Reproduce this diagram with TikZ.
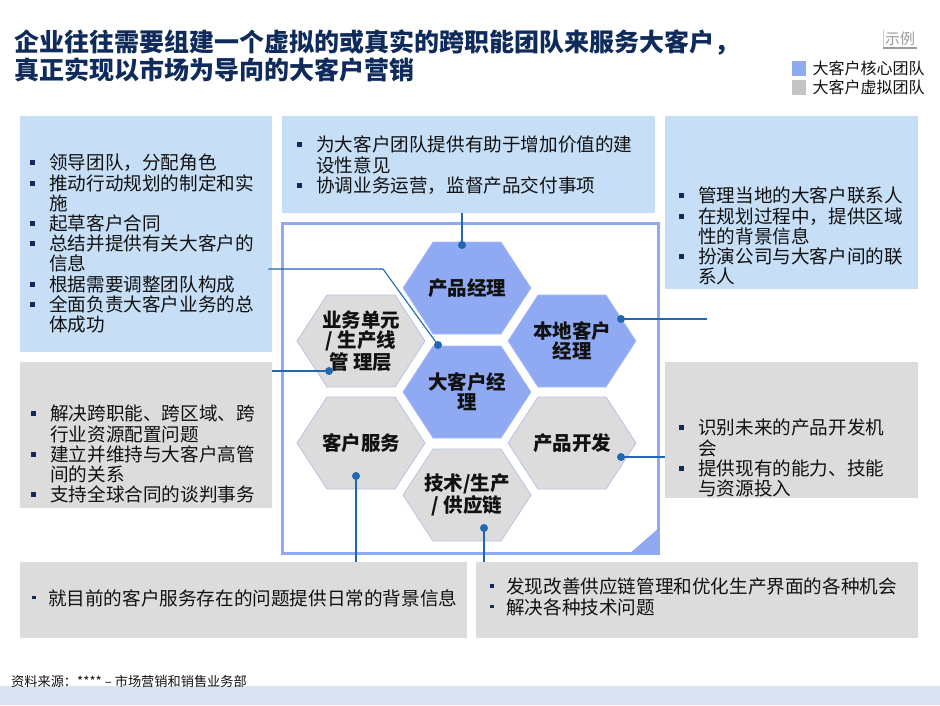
\documentclass[tikz,border=0pt]{standalone}
\usepackage{fontspec}
\setmainfont{Noto Sans CJK SC}
\usepackage{tikz}
\usetikzlibrary{positioning,calc}
\definecolor{navy}{HTML}{0F2B5B}
\definecolor{ink}{HTML}{111111}
\definecolor{boxblue}{HTML}{C6DEF6}
\definecolor{boxgray}{HTML}{DCDCDC}
\definecolor{hexblue}{HTML}{8FAAF2}
\definecolor{hexline}{HTML}{B7C3DF}
\definecolor{framecol}{HTML}{8FAAF0}
\definecolor{linkblue}{HTML}{2166B3}
\definecolor{bandcol}{HTML}{D9E3F1}
\definecolor{tabgray}{HTML}{9A9A9A}
\definecolor{keygray}{HTML}{C4C4C4}

% bullets and hanging indent
\newcommand{\bul}{\makebox[19pt][l]{\textcolor{navy}{\rule[4.5pt]{5pt}{5pt}}}}
\newcommand{\ind}{\hspace*{19pt}}
\newcommand{\sbul}{\makebox[16pt][l]{\textcolor{navy}{\rule[6pt]{3.5pt}{3.5pt}}}}
% flat-topped hexagon: style, name, centre, label
\newcommand{\hexcell}[4]{%
  \path[#1] (#3) ++(-64,0) -- ++(30,-46) -- ++(68,0) -- ++(30,46) -- ++(-30,46) -- ++(-68,0) -- cycle;
  \node[hexlabel] (#2) at (#3) {#4};}

\begin{document}
\begin{tikzpicture}[
  x=1pt,y=-1pt,
  every node/.style={inner sep=0pt},
  bluebox/.style={fill=boxblue,anchor=north west},
  graybox/.style={fill=boxgray,anchor=north west},
  bodytext/.style={font=\fontsize{18.6}{20.2}\selectfont,text=ink,align=left,anchor=north west},
  hexcore/.style={fill=hexblue,draw=hexblue!80!white,line width=0.6pt},
  hexvirt/.style={fill=boxgray,draw=hexline,line width=0.8pt},
  hexlabel/.style={font=\bfseries\fontsize{19.5}{20}\selectfont,text=ink,align=center},
  link/.style={draw=linkblue,line width=1.1pt},
  dot/.style={fill=linkblue},
  legend/.style={font=\fontsize{16}{16}\selectfont,text=ink}
]
\useasboundingbox (0,0) rectangle (940,705);

% title and legend
\node[font=\bfseries\fontsize{25}{28}\selectfont,text=navy,align=left,anchor=north west] (title) at (14,30)
  {企业往往需要组建一个虚拟的或真实的跨职能团队来服务大客户，\\真正实现以市场为导向的大客户营销};
\node[font=\fontsize{15}{15}\selectfont,text=tabgray,inner sep=2pt,anchor=west] (tab) at (883,39) {示例};
\draw[tabgray!50,line width=0.8pt] (tab.north west) -- (tab.south west);
\draw[tabgray,line width=2pt] (tab.south west) -- (tab.south east);
\node[fill=hexblue,minimum width=14,minimum height=15,anchor=north west] (keycore) at (792,61) {};
\node[legend,right=6pt of keycore] {大客户核心团队};
\node[fill=keygray,minimum width=14,minimum height=15,anchor=north west] (keyvirt) at (792,80) {};
\node[legend,right=6pt of keyvirt] {大客户虚拟团队};

% role boxes
\node[bluebox,minimum width=252,minimum height=236] (ltbox) at (20,116) {};
\node[bluebox,minimum width=373,minimum height=97] (tmbox) at (282,116) {};
\node[bluebox,minimum width=253,minimum height=173] (rtbox) at (665,116) {};
\node[graybox,minimum width=252,minimum height=146] (lgbox) at (20,362) {};
\node[graybox,minimum width=253,minimum height=136] (rgbox) at (665,362) {};
\node[graybox,minimum width=447,minimum height=76] (blbox) at (20,562) {};
\node[graybox,minimum width=442,minimum height=76] (brbox) at (476,562) {};

\node[bodytext] (lttext) at (30,154) {\bul 领导团队，分配角色\\
  \bul 推动行动规划的制定和实\\ \ind 施\\
  \bul 起草客户合同\\
  \bul 总结并提供有关大客户的\\ \ind 信息\\
  \bul 根据需要调整团队构成\\
  \bul 全面负责大客户业务的总\\ \ind 体成功};
\node[bodytext] (tmtext) at (297,136) {\bul 为大客户团队提供有助于增加价值的建\\ \ind 设性意见\\
  \bul 协调业务运营，监督产品交付事项};
\node[bodytext] (rttext) at (679,187) {\bul 管理当地的大客户联系人\\
  \bul 在规划过程中，提供区域\\ \ind 性的背景信息\\
  \bul 扮演公司与大客户间的联\\ \ind 系人};
\node[bodytext] (lgtext) at (31,405) {\bul 解决跨职能、跨区域、跨\\ \ind 行业资源配置问题\\
  \bul 建立并维持与大客户高管\\ \ind 间的关系\\
  \bul 支持全球合同的谈判事务};
\node[bodytext] (rgtext) at (679,419) {\bul 识别未来的产品开发机\\ \ind 会\\
  \bul 提供现有的能力、技能\\ \ind 与资源投入};
\node[bodytext] (bltext) at (32,589) {\sbul 就目前的客户服务存在的问题提供日常的背景信息};
\node[bodytext] (brtext) at (490,578) {\sbul 发现改善供应链管理和优化生产界面的各种机会\\
  \sbul 解决各种技术问题};

% team frame
\node[draw=framecol,line width=2.5pt,minimum width=376,minimum height=330,anchor=north west] (team) at (281,222) {};
\fill[framecol] (team.south east) -- ++(0,-27) -- ++(-31,27) -- cycle;

% hexagons
\hexcell{hexcore}{pm}{467,288}{产品经理}
\hexcell{hexcore}{am}{467,392}{大客户经\\理}
\hexcell{hexvirt}{ts}{467,495}{技术/生产\\/ 供应链}
\hexcell{hexvirt}{bu}{361,341}{业务单元\\/ 生产线\\管 理层}
\hexcell{hexvirt}{cs}{361,443}{客户服务}
\hexcell{hexcore}{lc}{572,341}{本地客户\\经理}
\hexcell{hexvirt}{pd}{572,443}{产品开发}

% connectors
\coordinate (pmdot) at ($(pm)+(-5,-43)$);
\coordinate (amdot) at ($(am)+(-29,-47)$);
\coordinate (amknee) at (383,269);
\coordinate (budot) at ($(bu)+(-32,30)$);
\coordinate (lcdot) at ($(lc)+(49,-22)$);
\coordinate (lcend) at (707,319);
\coordinate (pddot) at ($(pd)+(49,14)$);
\coordinate (csdot) at ($(cs)+(-5,33)$);
\coordinate (tsdot) at ($(ts)+(17,33)$);
\draw[link] (pmdot) -- (pmdot |- tmbox.south);
\draw[link] (amdot) -- (amknee) -- ($(amknee -| ltbox.east)+(-4,0)$);
\draw[link] (budot) -- (budot -| lgbox.east);
\draw[link] (lcdot) -- (lcend);
\draw[link] (pddot) -- (pddot -| rgbox.west);
\draw[link] (csdot) -- (csdot |- blbox.north);
\draw[link] (tsdot) -- (tsdot |- brbox.north);
\foreach \p in {pmdot,amdot,budot,lcdot,pddot,csdot,tsdot}
  \fill[dot] (\p) circle (4);

% source line
\fill[bandcol] (0,686) rectangle (940,705);
\node[font=\fontsize{13.2}{13.2}\selectfont,text=ink,anchor=west] (src) at (11,681) {资料来源：**** – 市场营销和销售业务部};
\end{tikzpicture}
\end{document}
